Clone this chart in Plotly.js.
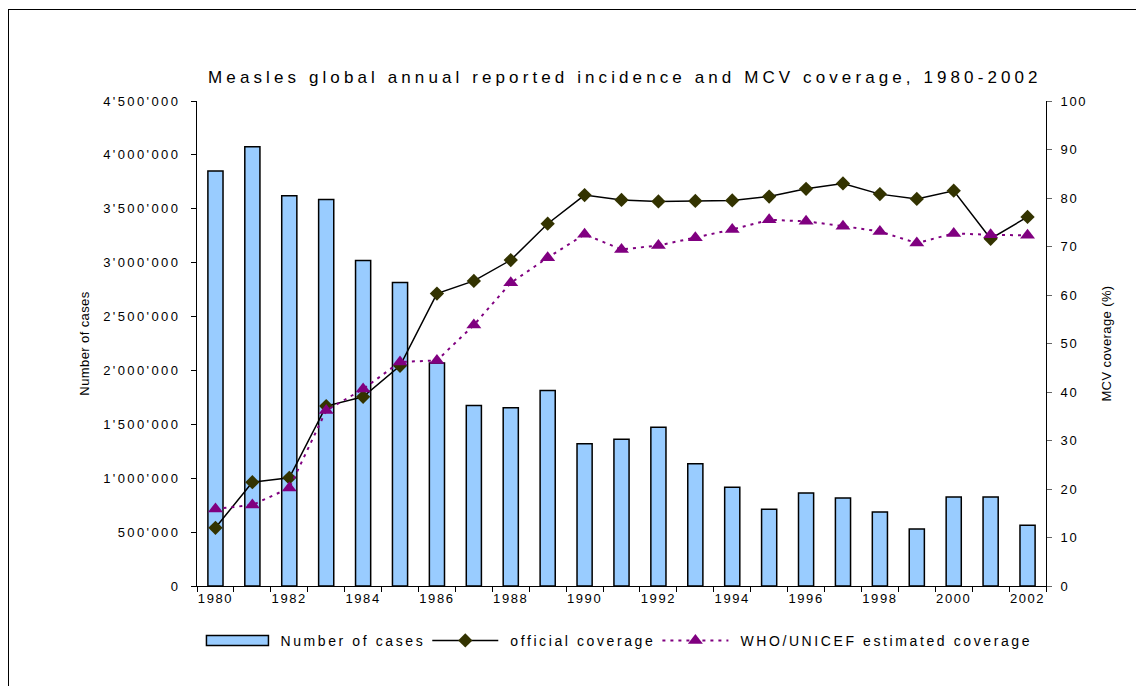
<!DOCTYPE html>
<html>
<head>
<meta charset="utf-8">
<script src="https://cdn.plot.ly/plotly-3.0.1.min.js"></script>
<style>
  html, body { margin: 0; padding: 0; background: #fff; }
  #wrap { position: relative; width: 1136px; height: 686px; overflow: hidden; }
  #frame { position: absolute; left: 8px; top: 9px; width: 1200px; height: 800px;
           border-left: 1px solid #000; border-top: 1px solid #000; pointer-events: none; z-index: 5; }
  #chart { width: 1136px; height: 686px; }
  .gtitle { letter-spacing: 4.1px; }
  .xtick text { letter-spacing: 1.6px; }
  .ytick text { letter-spacing: 2.4px; }
  .y2tick text { letter-spacing: 1.6px; }
  .legendtext { letter-spacing: 2.6px; }
  .ytitle, .y2title { letter-spacing: 0.4px; }
</style>
</head>
<body>
<div id="wrap">
  <div id="chart"></div>
  <div id="frame"></div>
</div>
<script>
const years = [1980,1981,1982,1983,1984,1985,1986,1987,1988,1989,1990,1991,1992,1993,1994,1995,1996,1997,1998,1999,2000,2001,2002];
const cases = [3850000,4075000,3620000,3585000,3020000,2815000,2070000,1675000,1655000,1815000,1320000,1362000,1472000,1135000,916000,712000,863000,816000,687000,529000,826000,826000,563000];
const officialCoverage = [12.0,21.4,22.3,37.1,39.0,45.4,60.3,62.9,67.2,74.7,80.6,79.6,79.3,79.4,79.5,80.3,81.9,83.0,80.8,79.8,81.5,71.6,76.1];
const whoCoverage = [15.9,16.7,20.2,36.2,40.6,46.2,46.5,53.8,62.5,67.7,72.5,69.4,70.2,71.8,73.5,75.5,75.2,74.2,73.1,70.7,72.7,72.4,72.3];
const xTickYears = years.filter((y, i) => i % 2 === 0);
const xTickText = xTickYears.map(String);
const leftTicks = [0,500000,1000000,1500000,2000000,2500000,3000000,3500000,4000000,4500000];
const rightTicks = [0,10,20,30,40,50,60,70,80,90,100];

const fontFam = '"Liberation Sans", Arial, sans-serif';

const traces = [
  {
    type: 'bar', name: 'Number of cases', x: years, y: cases,
    marker: { color: '#99CCFF', line: { color: '#000000', width: 1.5 } },
    width: 0.41, yaxis: 'y', hoverinfo: 'x+y'
  },
  {
    type: 'scatter', mode: 'lines+markers', name: 'official coverage',
    x: years, y: officialCoverage, yaxis: 'y2',
    line: { color: '#000000', width: 1.5 },
    marker: { symbol: 'diamond', size: 11, color: '#333300', line: { width: 0 } }
  },
  {
    type: 'scatter', mode: 'lines+markers', name: 'WHO/UNICEF estimated coverage',
    x: years, y: whoCoverage, yaxis: 'y2',
    line: { color: '#800080', width: 2, dash: '3px,5px' },
    marker: { symbol: 'triangle-up', size: 13, color: '#800080', line: { width: 0 } }
  }
];

const layout = {
  width: 1136, height: 686,
  paper_bgcolor: '#ffffff', plot_bgcolor: '#ffffff',
  separators: ".'",
  margin: { l: 197, r: 90, t: 101, b: 100 },
  font: { family: fontFam, size: 13, color: '#000' },
  title: {
    text: 'Measles global annual reported incidence and MCV coverage, 1980-2002',
    font: { family: fontFam, size: 17, color: '#000' },
    xref: 'paper', x: 0.504, xanchor: 'center',
    yref: 'container', y: 1 - 77/686, yanchor: 'middle'
  },
  showlegend: true,
  legend: {
    orientation: 'h', xref: 'paper', yref: 'paper',
    x: 0.497, xanchor: 'center', y: -0.113, yanchor: 'middle',
    font: { family: fontFam, size: 14, color: '#000' },
    bgcolor: 'rgba(0,0,0,0)', traceorder: 'normal', itemwidth: 70
  },
  bargap: 0.59,
  xaxis: {
    type: 'linear', range: [1979.5, 2002.5],
    tickvals: xTickYears, ticktext: xTickText,
    ticks: '', showgrid: false, zeroline: false,
    showline: true, linecolor: '#000', linewidth: 1,
    tickfont: { family: fontFam, size: 13, color: '#000' },
    minor: { tick0: 1979.5, dtick: 1, ticks: 'outside', ticklen: 5, tickcolor: '#000', tickwidth: 1, showgrid: false },
    fixedrange: true
  },
  yaxis: {
    range: [0, 4500000], tickvals: leftTicks, tickformat: ',d',
    ticks: 'outside', ticklen: 5, tickcolor: '#000', tickwidth: 1,
    showgrid: false, zeroline: false,
    showline: true, linecolor: '#000', linewidth: 1,
    tickfont: { family: fontFam, size: 13, color: '#000' },
    ticklabelstandoff: 8,
    title: { text: 'Number of cases', font: { family: fontFam, size: 13, color: '#000' }, standoff: 10 },
    fixedrange: true
  },
  yaxis2: {
    overlaying: 'y', side: 'right', range: [0, 100], tickvals: rightTicks,
    ticks: 'outside', ticklen: 5, tickcolor: '#666', tickwidth: 1,
    showgrid: false, zeroline: false,
    showline: true, linecolor: '#000', linewidth: 1,
    tickfont: { family: fontFam, size: 13, color: '#000' },
    ticklabelstandoff: 6,
    title: { text: 'MCV coverage (%)', font: { family: fontFam, size: 13, color: '#000' }, standoff: 15 },
    fixedrange: true
  }
};

Plotly.newPlot('chart', traces, layout, { displayModeBar: false }).then(function (gd) {
  // widen legend symbols to resemble the reference legend keys
  const items = gd.querySelectorAll('.legend .traces');
  items.forEach(function (item, idx) {
    if (idx === 0) {
      item.querySelectorAll('.legendpoints path').forEach(function (p) {
        p.setAttribute('d', 'M-30,5H32V-5H-30Z');
        p.setAttribute('transform', 'translate(36,0)');
      });
    } else {
      item.querySelectorAll('.legendlines path').forEach(function (p) {
        p.setAttribute('d', 'M2,0h66');
      });
      item.querySelectorAll('.legendsymbols path').forEach(function (p) {
        p.setAttribute('transform', 'translate(35,0)');
      });
    }
  });
});
</script>
</body>
</html>
